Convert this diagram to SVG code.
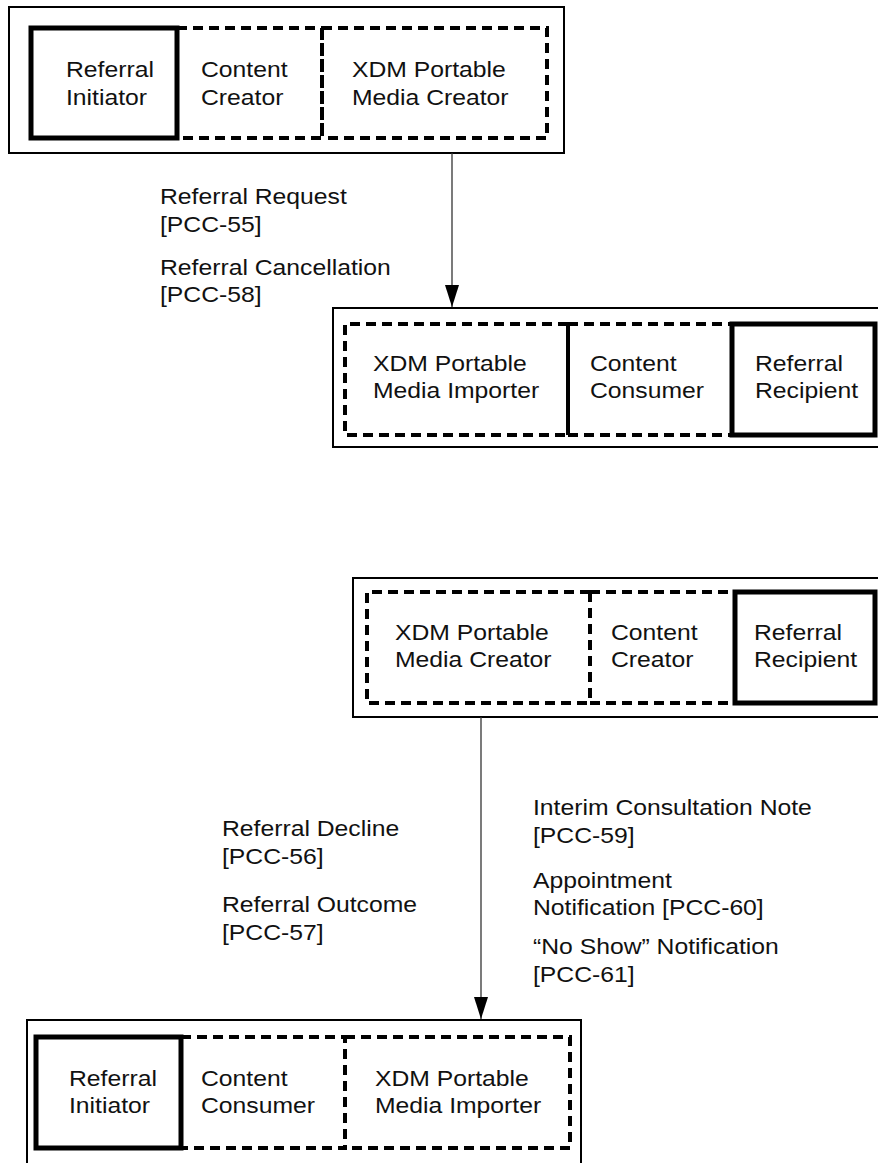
<svg xmlns="http://www.w3.org/2000/svg" width="878" height="1163" viewBox="0 0 878 1163">
<style>
.outer{fill:#fff;stroke:#000;stroke-width:2}
.solid{fill:none;stroke:#000;stroke-width:5}
.dash{fill:none;stroke:#000;stroke-width:4;stroke-dasharray:10 6}
.t{font-family:"Liberation Sans",Arial,sans-serif;font-size:21.5px;fill:#111}
.conn{stroke:#333;stroke-width:1.3;fill:none}
</style>
<defs>
<marker id="ah" viewBox="0 0 22 14" refX="22" refY="7" markerWidth="22" markerHeight="14" markerUnits="userSpaceOnUse" orient="auto">
<path d="M0,0 L22,7 L0,14 Z" fill="#000"/>
</marker>
</defs>
<rect width="878" height="1163" fill="#fff"/>

<g id="actorA">
<rect class="outer" x="9" y="7" width="555" height="146"/>
<path class="dash" d="M177,28 H322 V138 H177"/>
<path class="dash" d="M322,28 H547 V138 H322"/>
<path class="dash" d="M322,30 V138"/>
<rect class="solid" x="31" y="28" width="146" height="110"/>
<text class="t" transform="translate(66 77) scale(1.15 1)">Referral</text>
<text class="t" transform="translate(66 105) scale(1.15 1)">Initiator</text>
<text class="t" transform="translate(201 77) scale(1.15 1)">Content</text>
<text class="t" transform="translate(201 105) scale(1.15 1)">Creator</text>
<text class="t" transform="translate(352 77) scale(1.15 1)">XDM Portable</text>
<text class="t" transform="translate(352 105) scale(1.15 1)">Media Creator</text>
</g>

<g id="actorB">
<rect class="outer" x="333" y="308" width="560" height="139"/>
<path class="dash" d="M568,324 H345 V435 H568"/>
<path class="dash" d="M568,324 H732 M568,435 H732"/>
<line x1="568" y1="324" x2="568" y2="435" stroke="#000" stroke-width="4"/>
<rect class="solid" x="732" y="324" width="143" height="111"/>
<text class="t" transform="translate(373 371) scale(1.15 1)">XDM Portable</text>
<text class="t" transform="translate(373 398) scale(1.15 1)">Media Importer</text>
<text class="t" transform="translate(590 371) scale(1.15 1)">Content</text>
<text class="t" transform="translate(590 398) scale(1.15 1)">Consumer</text>
<text class="t" transform="translate(755 371) scale(1.15 1)">Referral</text>
<text class="t" transform="translate(755 398) scale(1.15 1)">Recipient</text>
</g>

<g id="actorC">
<rect class="outer" x="353" y="578" width="540" height="139"/>
<path class="dash" d="M590,592 H367 V703 H590"/>
<path class="dash" d="M590,592 V703"/>
<path class="dash" d="M590,592 H735 M590,703 H735"/>
<rect class="solid" x="735" y="592" width="140" height="111"/>
<text class="t" transform="translate(395 640) scale(1.15 1)">XDM Portable</text>
<text class="t" transform="translate(395 667) scale(1.15 1)">Media Creator</text>
<text class="t" transform="translate(611 640) scale(1.15 1)">Content</text>
<text class="t" transform="translate(611 667) scale(1.15 1)">Creator</text>
<text class="t" transform="translate(754 640) scale(1.15 1)">Referral</text>
<text class="t" transform="translate(754 667) scale(1.15 1)">Recipient</text>
</g>

<g id="actorD">
<rect class="outer" x="27" y="1020" width="554" height="160"/>
<path class="dash" d="M181,1037 H345 V1148 H181"/>
<path class="dash" d="M345,1037 H570 V1148 H345"/>
<rect class="solid" x="36" y="1037" width="145" height="111"/>
<text class="t" transform="translate(69 1086) scale(1.15 1)">Referral</text>
<text class="t" transform="translate(69 1113) scale(1.15 1)">Initiator</text>
<text class="t" transform="translate(201 1086) scale(1.15 1)">Content</text>
<text class="t" transform="translate(201 1113) scale(1.15 1)">Consumer</text>
<text class="t" transform="translate(375 1086) scale(1.15 1)">XDM Portable</text>
<text class="t" transform="translate(375 1113) scale(1.15 1)">Media Importer</text>
</g>

<g id="connectors">
<line class="conn" x1="452" y1="153" x2="452" y2="307" marker-end="url(#ah)"/>
<line class="conn" x1="481" y1="717" x2="481" y2="1019" marker-end="url(#ah)"/>
</g>

<g id="labels">
<text class="t" transform="translate(160 204) scale(1.15 1)">Referral Request</text>
<text class="t" transform="translate(160 232) scale(1.15 1)">[PCC-55]</text>
<text class="t" transform="translate(160 275) scale(1.15 1)">Referral Cancellation</text>
<text class="t" transform="translate(160 302) scale(1.15 1)">[PCC-58]</text>
<text class="t" transform="translate(222 836) scale(1.15 1)">Referral Decline</text>
<text class="t" transform="translate(222 864) scale(1.15 1)">[PCC-56]</text>
<text class="t" transform="translate(222 912) scale(1.15 1)">Referral Outcome</text>
<text class="t" transform="translate(222 940) scale(1.15 1)">[PCC-57]</text>
<text class="t" transform="translate(533 815) scale(1.15 1)">Interim Consultation Note</text>
<text class="t" transform="translate(533 843) scale(1.15 1)">[PCC-59]</text>
<text class="t" transform="translate(533 888) scale(1.15 1)">Appointment</text>
<text class="t" transform="translate(533 915) scale(1.15 1)">Notification [PCC-60]</text>
<text class="t" transform="translate(533 954) scale(1.15 1)">“No Show” Notification</text>
<text class="t" transform="translate(533 982) scale(1.15 1)">[PCC-61]</text>
</g>
</svg>
